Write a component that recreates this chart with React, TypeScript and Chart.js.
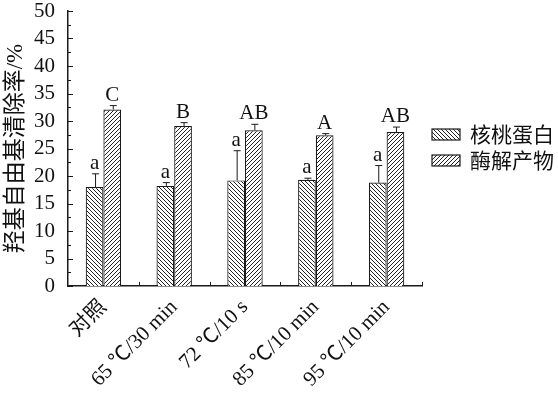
import React, { useEffect, useRef } from 'react';
import { Chart, registerables } from 'chart.js';

Chart.register(...registerables);

const categories = ['对照', '65 ℃/30 min', '72 ℃/10 s', '85 ℃/10 min', '95 ℃/10 min'];
const seriesNames = ['核桃蛋白', '酶解产物'];
const proteinValues = [18.0, 18.2, 19.2, 19.3, 18.8];
const proteinErrors = [2.4, 0.6, 5.4, 0.3, 3.1];
const hydrolysateValues = [32.1, 29.1, 28.3, 27.4, 28.0];
const hydrolysateErrors = [0.7, 0.6, 1.1, 0.3, 0.9];
const proteinLetters = ['a', 'a', 'a', 'a', 'a'];
const hydrolysateLetters = ['C', 'B', 'AB', 'A', 'AB'];
const yTitle = '羟基自由基清除率/%';
const yMin = 0;
const yMax = 50;
const yStep = 5;

const SERIF = '"Liberation Serif", "Noto Sans CJK SC", serif';
const CJK = '"Noto Sans CJK SC", sans-serif';
const INK = '#1a1a1a';

function makeHatch(forward: boolean): CanvasPattern | string {
  const s = 4;
  const c = document.createElement('canvas');
  c.width = s;
  c.height = s;
  const g = c.getContext('2d');
  if (!g) return '#fff';
  g.fillStyle = '#fff';
  g.fillRect(0, 0, s, s);
  g.strokeStyle = '#222';
  g.lineWidth = 1;
  g.beginPath();
  if (forward) {
    g.moveTo(-1, s + 1); g.lineTo(s + 1, -1);
    g.moveTo(-1, 1); g.lineTo(1, -1);
    g.moveTo(s - 1, s + 1); g.lineTo(s + 1, s - 1);
  } else {
    g.moveTo(-1, -1); g.lineTo(s + 1, s + 1);
    g.moveTo(s - 1, -1); g.lineTo(s + 1, 1);
    g.moveTo(-1, s - 1); g.lineTo(1, s + 1);
  }
  g.stroke();
  return g.createPattern(c, 'repeat') || '#fff';
}

const overlay = {
  id: 'overlay',
  afterDatasetsDraw(chart: any) {
    const { ctx, chartArea, scales } = chart;
    const x = scales.x;
    const y = scales.y;
    const vals = [proteinValues, hydrolysateValues];
    const errs = [proteinErrors, hydrolysateErrors];
    const letters = [proteinLetters, hydrolysateLetters];
    ctx.save();
    for (let d = 0; d < 2; d++) {
      const meta = chart.getDatasetMeta(d);
      meta.data.forEach((bar: any, i: number) => {
        const base = y.getPixelForValue(vals[d][i]);
        const top = y.getPixelForValue(vals[d][i] + errs[d][i]);
        const cx = bar.x + 1;
        ctx.strokeStyle = INK;
        ctx.lineWidth = 1;
        ctx.beginPath();
        ctx.moveTo(cx, base);
        ctx.lineTo(cx, top);
        ctx.moveTo(cx - 3.5, top);
        ctx.lineTo(cx + 3.5, top);
        ctx.stroke();
        ctx.fillStyle = '#111';
        ctx.font = '21px ' + SERIF;
        ctx.textAlign = 'center';
        ctx.textBaseline = 'alphabetic';
        ctx.fillText(letters[d][i], bar.x, top - 5);
      });
    }
    // inward y ticks (major + minor)
    ctx.strokeStyle = INK;
    ctx.lineWidth = 1;
    ctx.beginPath();
    for (let v = yMin; v <= yMax + 0.001; v += yStep / 2) {
      const py = Math.round(y.getPixelForValue(v)) + 0.5;
      const major = Math.abs(v / yStep - Math.round(v / yStep)) < 0.001;
      const len = major ? 5 : 3;
      ctx.moveTo(chartArea.left, py);
      ctx.lineTo(chartArea.left + len, py);
    }
    // inward x ticks at category boundaries
    const n = categories.length;
    const step = x.getPixelForTick(1) - x.getPixelForTick(0);
    for (let i = 1; i <= n; i++) {
      const px = Math.round(x.getPixelForTick(i - 1) + step / 2) + 0.5;
      ctx.moveTo(px, chartArea.bottom);
      ctx.lineTo(px, chartArea.bottom - 4);
    }
    ctx.stroke();

    // legend
    const cy = (chartArea.top + chartArea.bottom) / 2;
    const bx = chartArea.right + 10;
    const bw = 28;
    const bh = 11;
    const rowGap = 26;
    chart.data.datasets.forEach((ds: any, i: number) => {
      const rowY = cy - rowGap / 2 + i * rowGap - 1;
      ctx.fillStyle = ds.backgroundColor;
      ctx.fillRect(bx, rowY - bh / 2, bw, bh);
      ctx.strokeStyle = INK;
      ctx.lineWidth = 1.2;
      ctx.strokeRect(bx, rowY - bh / 2, bw, bh);
      ctx.fillStyle = '#111';
      ctx.font = '21px ' + CJK;
      ctx.textAlign = 'left';
      ctx.textBaseline = 'middle';
      ctx.fillText(ds.label, bx + bw + 10, rowY);
    });
    ctx.restore();
  },
};

export default function App() {
  const ref = useRef<HTMLCanvasElement | null>(null);
  useEffect(() => {
    const canvas = ref.current;
    if (!canvas) return;
    const chart = new Chart(canvas, {
      type: 'bar',
      data: {
        labels: categories,
        datasets: [
          {
            label: seriesNames[0],
            data: proteinValues,
            backgroundColor: makeHatch(false) as any,
            borderColor: INK,
            borderWidth: 1.2,
          },
          {
            label: seriesNames[1],
            data: hydrolysateValues,
            backgroundColor: makeHatch(true) as any,
            borderColor: INK,
            borderWidth: 1.2,
          },
        ],
      },
      options: {
        animation: false,
        responsive: true,
        maintainAspectRatio: false,
        layout: { padding: { left: 2, right: 136, top: 0, bottom: 0 } },
        datasets: { bar: { barPercentage: 1, categoryPercentage: 0.5 } },
        plugins: {
          tooltip: { enabled: false },
          legend: { display: false },
        },
        scales: {
          x: {
            grid: { display: false, drawTicks: false },
            border: { display: true, color: INK, width: 1.5 },
            ticks: {
              color: '#111',
              font: { family: SERIF, size: 21 },
              minRotation: 45,
              maxRotation: 45,
              autoSkip: false,
              padding: 9,
            },
            afterFit: (s: any) => {
              s.height = 113;
              s.paddingLeft = 0;
              s.paddingRight = 0;
            },
          },
          y: {
            min: yMin,
            max: yMax,
            grid: { display: false, drawTicks: false },
            border: { display: true, color: INK, width: 1.5 },
            ticks: {
              stepSize: yStep,
              autoSkip: false,
              color: '#111',
              font: { family: SERIF, size: 21 },
              padding: 13,
            },
            title: {
              display: true,
              text: yTitle,
              color: '#111',
              font: { family: SERIF, size: 23 },
              padding: { top: 0, bottom: 4 },
            },
            afterFit: (s: any) => {
              s.width = 66;
              s.paddingTop = 11;
              s.paddingBottom = 0;
            },
          },
        },
      },
      plugins: [overlay],
    });
    return () => chart.destroy();
  }, []);
  return (
    <div style={{ position: 'absolute', left: 0, top: 0, width: 558, height: 399, background: '#fff' }}>
      <canvas ref={ref} />
    </div>
  );
}
